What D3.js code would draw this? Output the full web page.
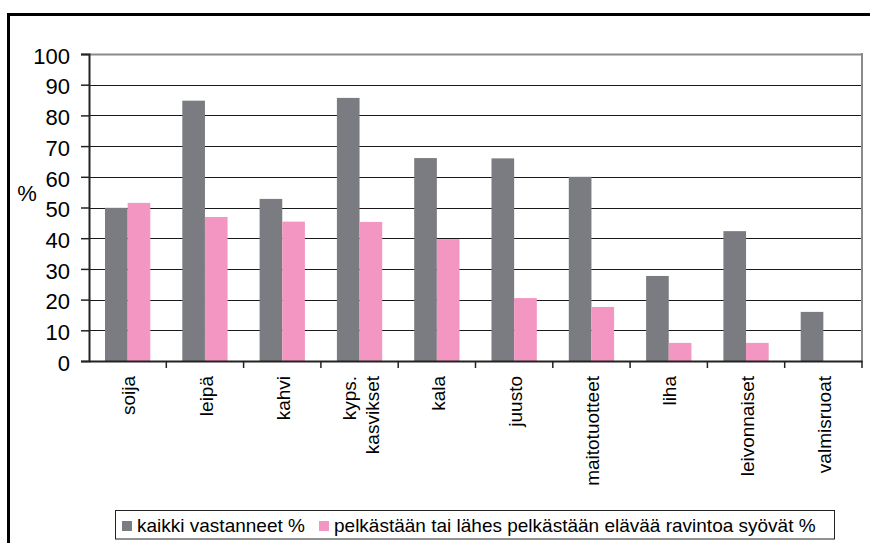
<!DOCTYPE html>
<html>
<head>
<meta charset="utf-8">
<script src="https://cdn.jsdelivr.net/npm/d3@7"></script>
<style>
html,body{margin:0;padding:0;background:#fff;}
svg{display:block;}
text{font-family:"Liberation Sans",Arial,sans-serif;fill:#000;}
</style>
</head>
<body>
<svg id="chart" width="870" height="543"></svg>
<script>
const categories = ["soija","leipä","kahvi","kyps.\nkasvikset","kala","juusto","maitotuotteet","liha","leivonnaiset","valmisruoat"];
const seriesNames = ["kaikki vastanneet %","pelkästään tai lähes pelkästään elävää ravintoa syövät %"];
const kaikki = [49.9, 84.8, 52.8, 85.7, 66.1, 66.0, 60.0, 27.7, 42.3, 16.0];
const elava  = [51.5, 46.9, 45.4, 45.3, 39.7, 20.5, 17.6, 5.9, 5.9, 0];
const yTicks = [0,10,20,30,40,50,60,70,80,90,100];
const colors = ["#7b7c81","#f396c1"];

const svg = d3.select("#chart");
const L = 89, R = 862, T = 54, B = 361;

// outer frame
svg.append("rect").attr("x",8.5).attr("y",14.5).attr("width",900).attr("height",600)
  .attr("fill","none").attr("stroke","#000").attr("stroke-width",3);

const x0 = d3.scaleBand().domain(categories).range([L,R]).padding(0);
const bw = x0.bandwidth();
const x1 = d3.scaleBand().domain(seriesNames).range([bw*0.207, bw*0.793]).padding(0);
const y = d3.scaleLinear().domain([0,100]).range([B,T]);

// gridlines
svg.append("g").selectAll("line").data(yTicks.filter(d=>d>0)).join("line")
  .attr("x1",L).attr("x2",R)
  .attr("y1",d=>Math.round(y(d))+0.5).attr("y2",d=>Math.round(y(d))+0.5)
  .attr("stroke",d=>d===100?"#8a8a8a":"#1a1a1a").attr("stroke-width",d=>d===100?2:1);

// right border of plot area
svg.append("line").attr("x1",R).attr("x2",R).attr("y1",T-1).attr("y2",B)
  .attr("stroke","#8a8a8a").attr("stroke-width",2);

// bars
const data = categories.map((c,i)=>({cat:c, vals:[kaikki[i], elava[i]]}));
const groups = svg.append("g").selectAll("g").data(data).join("g")
  .attr("transform",d=>`translate(${x0(d.cat)},0)`);
groups.selectAll("rect").data(d=>d.vals.map((v,j)=>({s:seriesNames[j], v, j})))
  .join("rect")
  .attr("x",d=>x1(d.s)).attr("width",x1.bandwidth())
  .attr("y",d=>y(d.v)).attr("height",d=>B-y(d.v))
  .attr("fill",d=>colors[d.j]);

// y axis
const yAxis = d3.axisLeft(y).tickValues(yTicks).tickSize(8).tickPadding(11).tickFormat(d3.format("d"));
const gy = svg.append("g").attr("transform",`translate(${L},0)`).call(yAxis);
gy.select(".domain").attr("stroke","#222").attr("stroke-width",2);
gy.selectAll(".tick line").attr("stroke","#222").attr("stroke-width",1.5);
gy.selectAll(".tick text").style("font-size","22px").attr("dy","0.42em").attr("fill","#000");

// x axis
const xAxis = d3.axisBottom(x0).tickSize(0).tickFormat("");
const gx = svg.append("g").attr("transform",`translate(0,${B})`).call(xAxis);
gx.select(".domain").attr("stroke","#222").attr("stroke-width",2);
// boundary tick marks
const bounds = categories.map(c=>x0(c)).concat([R]).slice(1);
svg.append("g").selectAll("line").data(bounds).join("line")
  .attr("x1",d=>d).attr("x2",d=>d).attr("y1",B).attr("y2",B+7)
  .attr("stroke","#222").attr("stroke-width",1.5);

// category labels
const lab = svg.append("g").selectAll("text").data(categories).join("text")
  .attr("transform",d=>`translate(${x0(d)+bw/2+1},${B+15}) rotate(-90)`)
  .attr("text-anchor","end")
  .style("font-size","19px");
lab.each(function(d){
  const lines = d.split("\n");
  const t = d3.select(this);
  const n = lines.length;
  lines.forEach((ln,k)=>{
    t.append("tspan").attr("x",0)
     .attr("dy", k===0 ? ((0.35 - (n-1)*0.6)+"em") : "1.2em")
     .text(ln);
  });
});

// y label
svg.append("text").attr("x",27).attr("y",201).attr("text-anchor","middle")
  .style("font-size","22px").text("%");

// legend
const lg = svg.append("g");
lg.append("rect").attr("x",115.5).attr("y",510.5).attr("width",719).attr("height",28.5)
  .attr("fill","#fff").attr("stroke","#222").attr("stroke-width",1);
const legX = [122, 319];
seriesNames.forEach((s,j)=>{
  lg.append("rect").attr("x",legX[j]).attr("y",521).attr("width",10).attr("height",10).attr("fill",colors[j]);
  lg.append("text").attr("x",legX[j]+15).attr("y",532).style("font-size","19px").text(s);
});
</script>
</body>
</html>
